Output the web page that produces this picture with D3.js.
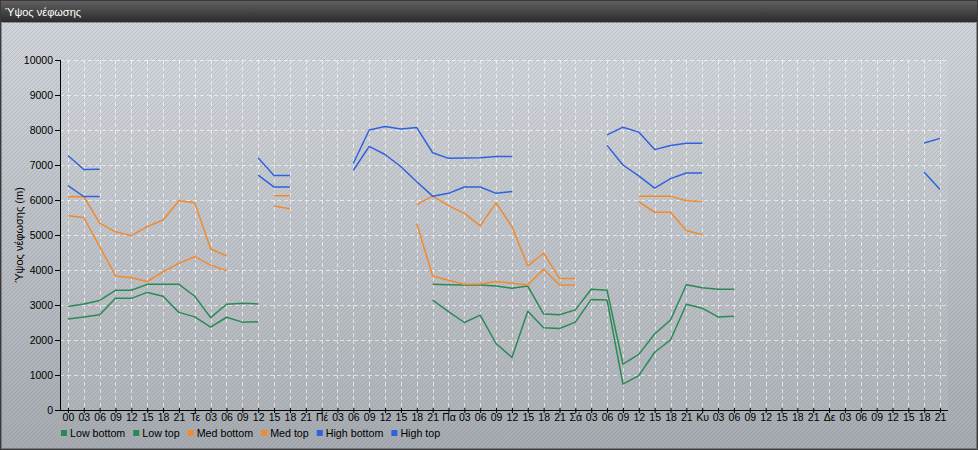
<!DOCTYPE html>
<html>
<head>
<meta charset="utf-8">
<script src="https://cdn.jsdelivr.net/npm/d3@7"></script>
<style>
  html, body { margin: 0; padding: 0; background: #fff; }
  svg { display: block; font-family: "Liberation Sans", Arial, sans-serif; }
</style>
</head>
<body>
<svg id="chart" width="978" height="450"></svg>
<script>
// ---------- DATA ----------
const title = "Ύψος νέφωσης";
const yLabel = "Ύψος νέφωσης (m)";
const dayLabels = ["00", "Τε", "Πέ", "Πα", "Σά", "Κυ", "Δε"];
const hourLabels = ["00", "03", "06", "09", "12", "15", "18", "21"];
const yTicks = [0, 1000, 2000, 3000, 4000, 5000, 6000, 7000, 8000, 9000, 10000];
const seriesNames = ["Low bottom", "Low top", "Med bottom", "Med top", "High bottom", "High top"];
const seriesColors = ["#2a8a55", "#2a8a55", "#f28a2e", "#f28a2e", "#2f62e0", "#2f62e0"];
const _ = null;

const lowBottom = [2600, 2660, 2720, 3190, 3190, 3360, 3250, 2790,
  2660, 2370, 2650, 2510, 2520, _, _, _,
  _, _, _, _, _, _, _, 3140,
  2810, 2500, 2710, 1900, 1500, 2820, 2350, 2330,
  2510, 3160, 3140, 740, 980, 1650, 2000, 3020,
  2910, 2660, 2680, _, _, _, _, _,
  _, _, _, _, _, _, _, _];

const lowTop = [2960, 3030, 3130, 3420, 3420, 3590, 3590, 3590,
  3250, 2640, 3020, 3050, 3030, _, _, _,
  _, _, _, _, _, _, _, 3590,
  3580, 3570, 3570, 3540, 3480, 3540, 2740, 2720,
  2860, 3450, 3420, 1310, 1590, 2170, 2570, 3580,
  3490, 3450, 3450, _, _, _, _, _,
  _, _, _, _, _, _, _, _];

const medBottom = [5550, 5500, 4670, 3830, 3780, 3670, 3950, 4190,
  4380, 4140, 3980, _, _, 5830, 5750, _,
  _, _, _, _, _, _, 5330, 3830,
  3710, 3590, 3600, 3670, 3620, 3570, 4020, 3570,
  3570, _, _, _, 5950, 5650, 5650, 5130,
  5010, _, _, _, _, _, _, _,
  _, _, _, _, _, _, _, _];

const medTop = [6090, 6100, 5340, 5090, 4980, 5240, 5430, 5980,
  5920, 4600, 4400, _, _, 6120, 6120, _,
  _, _, _, _, _, _, 5870, 6110,
  5840, 5620, 5260, 5920, 5240, 4120, 4480, 3760,
  3760, _, _, _, 6110, 6110, 6110, 5980,
  5960, _, _, _, _, _, _, _,
  _, _, _, _, _, _, _, _];

const highBottom = [6410, 6100, 6100, _, _, _, _, _,
  _, _, _, _, 6710, 6370, 6370, _,
  _, _, 6850, 7530, 7300, 6950, 6520, 6110,
  6190, 6370, 6370, 6190, 6240, _, _, _,
  _, _, 7560, 7000, 6690, 6340, 6610, 6770,
  6770, _, _, _, _, _, _, _,
  _, _, _, _, _, _, 6790, 6300];

const highTop = [7270, 6870, 6880, _, _, _, _, _,
  _, _, _, _, 7200, 6700, 6700, _,
  _, _, 7050, 8000, 8100, 8030, 8070, 7350,
  7190, 7200, 7210, 7240, 7240, _, _, _,
  _, _, 7860, 8080, 7940, 7440, 7560, 7620,
  7620, _, _, _, _, _, _, _,
  _, _, _, _, _, _, 7630, 7760];

const seriesValues = [lowBottom, lowTop, medBottom, medTop, highBottom, highTop];

// tick labels: first label of each day is the day name, others the hour
const tickLabels = [];
dayLabels.forEach(d => hourLabels.forEach((h, j) => tickLabels.push(j === 0 ? d : h)));
const categories = d3.range(tickLabels.length);

// ---------- LAYOUT ----------
const W = 978, H = 450;
const plot = { left: 60, right: 948, top: 60, bottom: 410 };
const svg = d3.select("#chart");
const defs = svg.append("defs");

const bg = defs.append("linearGradient").attr("id", "bodyGrad")
  .attr("x1", 0).attr("y1", 0).attr("x2", 0).attr("y2", 1);
bg.append("stop").attr("offset", "0%").attr("stop-color", "#d3d6da");
bg.append("stop").attr("offset", "100%").attr("stop-color", "#a7abaf");

const tg = defs.append("linearGradient").attr("id", "titleGrad")
  .attr("x1", 0).attr("y1", 0).attr("x2", 0).attr("y2", 1);
tg.append("stop").attr("offset", "0%").attr("stop-color", "#626262");
tg.append("stop").attr("offset", "100%").attr("stop-color", "#2c2c2c");

const pat = defs.append("pattern").attr("id", "stripes")
  .attr("width", 4).attr("height", 4).attr("patternUnits", "userSpaceOnUse");
pat.append("path").attr("d", "M-1,1 l2,-2 M0,4 l4,-4 M3,5 l2,-2")
  .attr("stroke", "rgba(100,125,160,0.22)").attr("stroke-width", 1);

// body
svg.append("rect").attr("x", 0).attr("y", 0).attr("width", W).attr("height", H)
  .attr("fill", "url(#bodyGrad)");
svg.append("rect").attr("x", 0).attr("y", 0).attr("width", W).attr("height", H)
  .attr("fill", "url(#stripes)");
// plot area lighter tint
svg.append("rect").attr("x", plot.left).attr("y", plot.top)
  .attr("width", plot.right - plot.left).attr("height", plot.bottom - plot.top)
  .attr("fill", "rgba(255,255,255,0.07)");

// title bar
svg.append("rect").attr("x", 0).attr("y", 0).attr("width", W).attr("height", 22)
  .attr("fill", "url(#titleGrad)");
svg.append("text").attr("x", 5).attr("y", 15.5).attr("fill", "#fff")
  .attr("font-size", 11).text(title);

// outer border
svg.append("rect").attr("x", 0.5).attr("y", 0.5).attr("width", W - 1).attr("height", H - 1)
  .attr("fill", "none").attr("stroke", "#3a3a3a").attr("stroke-width", 1);
svg.append("rect").attr("x", 1.5).attr("y", 22.5).attr("width", W - 3).attr("height", H - 24)
  .attr("fill", "none").attr("stroke", "rgba(60,60,60,0.45)").attr("stroke-width", 1);

// ---------- SCALES ----------
const x = d3.scalePoint().domain(categories).range([plot.left, plot.right]).padding(0.5);
const y = d3.scaleLinear().domain([0, 10000]).range([plot.bottom, plot.top]);

// grid
const grid = svg.append("g");
grid.selectAll("line.h").data(yTicks.slice(1)).join("line")
  .attr("x1", plot.left).attr("x2", plot.right)
  .attr("y1", d => y(d) + 0.5).attr("y2", d => y(d) + 0.5)
  .attr("stroke", "rgba(255,255,255,0.6)").attr("stroke-dasharray", "4,3");
grid.selectAll("line.v").data(categories).join("line")
  .attr("x1", d => Math.round(x(d)) + 0.5).attr("x2", d => Math.round(x(d)) + 0.5)
  .attr("y1", plot.top).attr("y2", plot.bottom)
  .attr("stroke", "rgba(255,255,255,0.6)").attr("stroke-dasharray", "4,3");

// axes
const yAxis = svg.append("g").attr("transform", `translate(${plot.left},0)`)
  .call(d3.axisLeft(y).tickValues(yTicks).tickSize(5).tickPadding(2).tickFormat(d3.format("d")));
yAxis.select(".domain").attr("stroke", "#000").attr("d", `M0.5,${plot.top}V${plot.bottom}`);
yAxis.selectAll(".tick line").attr("stroke", "#000");
yAxis.selectAll("text").attr("font-size", 10.5).attr("fill", "#000")
  .attr("font-family", "Liberation Sans, Arial, sans-serif");

const xAxis = svg.append("g").attr("transform", `translate(0,${plot.bottom})`)
  .call(d3.axisBottom(x).tickSize(3).tickPadding(1).tickFormat(i => tickLabels[i]));
xAxis.select(".domain").attr("stroke", "#000").attr("d", `M${plot.left},0.5H${plot.right}`);
xAxis.selectAll(".tick line").attr("stroke", "#000").attr("y1", -2);
xAxis.selectAll("text").attr("font-size", 10.5).attr("fill", "#000")
  .attr("font-family", "Liberation Sans, Arial, sans-serif");

// y label
svg.append("text").attr("transform", `translate(23,${(plot.top + plot.bottom) / 2}) rotate(-90)`)
  .attr("text-anchor", "middle").attr("font-size", 11).attr("fill", "#000").text(yLabel);

// ---------- LINES ----------
const line = d3.line().defined(d => d != null)
  .x((d, i) => x(categories[i])).y(d => y(d));
svg.append("g").selectAll("path").data(seriesValues).join("path")
  .attr("d", d => line(d))
  .attr("fill", "none")
  .attr("stroke", (d, i) => seriesColors[i])
  .attr("stroke-width", 1.5)
  .attr("stroke-linejoin", "round");

// ---------- LEGEND ----------
const legend = svg.append("g").attr("font-size", 10.7);
let lx = 61;
seriesNames.forEach((name, i) => {
  const g = legend.append("g");
  g.append("rect").attr("x", lx).attr("y", 430).attr("width", 6).attr("height", 6)
    .attr("fill", seriesColors[i]);
  const t = g.append("text").attr("x", lx + 9).attr("y", 437).attr("fill", "#000").text(name);
  lx += 9 + t.node().getComputedTextLength() + 8;
});
</script>
</body>
</html>
